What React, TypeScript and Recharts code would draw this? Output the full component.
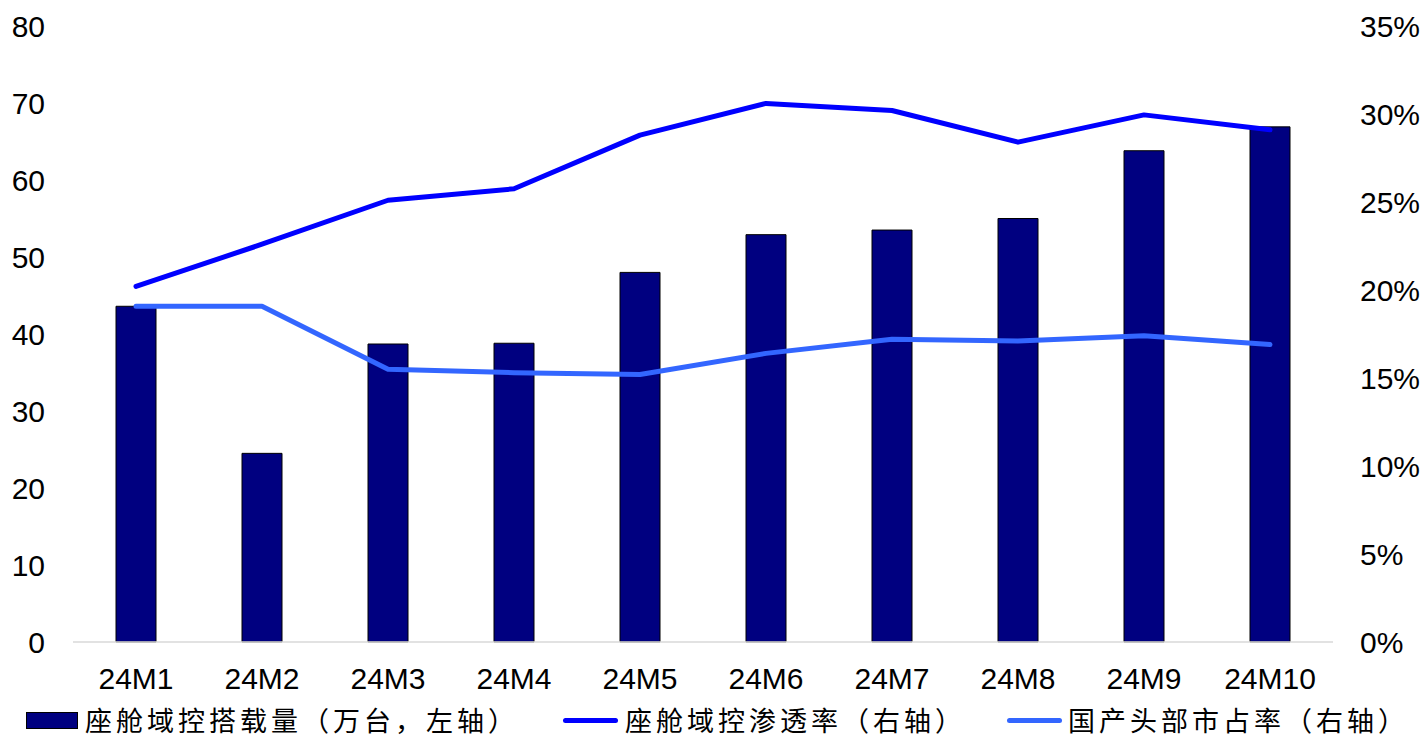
import React from 'react';
import {
  ComposedChart, Bar, Line, XAxis, YAxis, Legend
} from 'recharts';

// categories and series
const months = ['24M1', '24M2', '24M3', '24M4', '24M5', '24M6', '24M7', '24M8', '24M9', '24M10'];
const installs = [43.6, 24.5, 38.7, 38.8, 48.0, 52.9, 53.5, 55.0, 63.8, 66.9]; // 万台, left axis
const penetration = [20.2, 22.6, 25.1, 25.75, 28.8, 30.6, 30.2, 28.4, 29.95, 29.1]; // %, right axis
const domesticShare = [19.08, 19.08, 15.5, 15.3, 15.2, 16.4, 17.2, 17.1, 17.4, 16.9]; // %, right axis

const leftTicks = [0, 10, 20, 30, 40, 50, 60, 70, 80];
const rightTicks = [0, 5, 10, 15, 20, 25, 30, 35];

const NAMES = {
  installs: '座舱域控搭载量（万台，左轴）',
  penetration: '座舱域控渗透率（右轴）',
  share: '国产头部市占率（右轴）',
};

const BAR_COLOR = '#000080';
const LINE1 = '#0000FF';
const LINE2 = '#3366FF';
const FONT = '"Liberation Sans", Arial, sans-serif';
const CJK = '"Noto Sans CJK SC", "Noto Sans", sans-serif';

const data = months.map((m, i) => ({
  name: m,
  installs: installs[i],
  penetration: penetration[i],
  share: domesticShare[i],
}));

const renderLegend = () => {
  const textStyle: React.CSSProperties = {
    fontFamily: CJK, fontSize: 27, color: '#000', lineHeight: '32px',
    whiteSpace: 'nowrap', letterSpacing: 4,
  };
  const item: React.CSSProperties = {
    position: 'absolute', top: 2, display: 'flex', alignItems: 'center', height: 32,
  };
  return (
    <div style={{ position: 'relative', width: 1427, height: 39 }}>
      <div style={{ ...item, left: 26 }}>
        <span style={{ width: 50, height: 15, background: BAR_COLOR, border: '1px solid #000', marginRight: 7 }} />
        <span style={textStyle}>{NAMES.installs}</span>
      </div>
      <div style={{ ...item, left: 563 }}>
        <span style={{ width: 55, height: 5, background: LINE1, borderRadius: 3, marginRight: 7 }} />
        <span style={textStyle}>{NAMES.penetration}</span>
      </div>
      <div style={{ ...item, left: 1007 }}>
        <span style={{ width: 55, height: 5, background: LINE2, borderRadius: 3, marginRight: 6 }} />
        <span style={textStyle}>{NAMES.share}</span>
      </div>
    </div>
  );
};

const App: React.FC = () => {
  const tick = { fill: '#000', fontSize: 30, fontFamily: FONT };
  return (
    <div style={{ position: 'absolute', left: 0, top: 0, width: 1427, height: 741, background: '#fff', overflow: 'hidden' }}>
      <ComposedChart
        width={1427}
        height={741}
        data={data}
        margin={{ top: 26, right: 0, bottom: 0, left: 0 }}
      >
        <XAxis
          dataKey="name"
          tick={tick}
          tickLine={false}
          tickSize={0}
          tickMargin={26}
          height={60}
          axisLine={{ stroke: '#d9d9d9', strokeWidth: 1.5 }}
          interval={0}
        />
        <YAxis
          yAxisId="left"
          orientation="left"
          domain={[0, 80]}
          ticks={leftTicks}
          width={73}
          axisLine={false}
          tickLine={false}
          tickSize={0}
          tickMargin={28}
          tick={tick}
        />
        <YAxis
          yAxisId="right"
          orientation="right"
          domain={[0, 35]}
          ticks={rightTicks}
          width={94}
          axisLine={false}
          tickLine={false}
          tickSize={0}
          tickMargin={27}
          tick={{ ...tick, textAnchor: 'start' }}
          tickFormatter={(v: number) => `${v}%`}
        />
        <Legend verticalAlign="bottom" height={39} content={renderLegend} wrapperStyle={{ left: 0, bottom: 0 }} />
        <Bar
          yAxisId="left"
          dataKey="installs"
          name={NAMES.installs}
          fill={BAR_COLOR}
          stroke="#000"
          strokeWidth={1}
          barSize={40}
          isAnimationActive={false}
        />
        <Line
          yAxisId="right"
          dataKey="share"
          name={NAMES.share}
          type="linear"
          stroke={LINE2}
          strokeWidth={5}
          strokeLinecap="round"
          strokeLinejoin="round"
          dot={false}
          activeDot={false}
          isAnimationActive={false}
        />
        <Line
          yAxisId="right"
          dataKey="penetration"
          name={NAMES.penetration}
          type="linear"
          stroke={LINE1}
          strokeWidth={5}
          strokeLinecap="round"
          strokeLinejoin="round"
          dot={false}
          activeDot={false}
          isAnimationActive={false}
        />
      </ComposedChart>
    </div>
  );
};

export default App;
